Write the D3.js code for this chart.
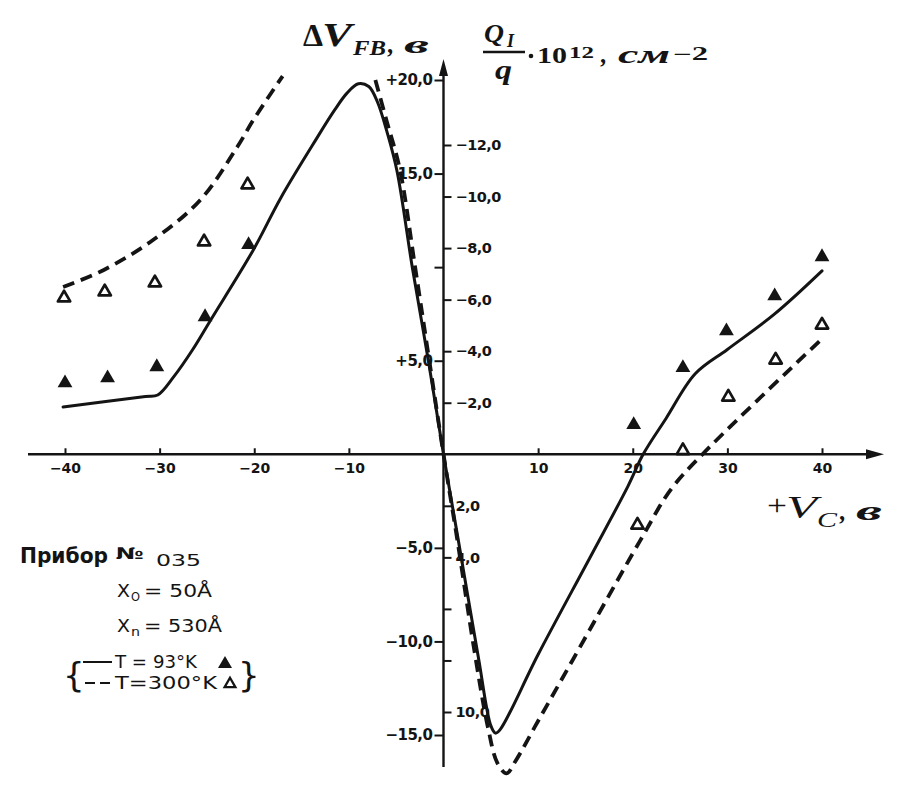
<!DOCTYPE html>
<html>
<head>
<meta charset="utf-8">
<script src="https://cdn.jsdelivr.net/npm/d3@7"></script>
<style>
  html, body { margin: 0; padding: 0; background: #fff; }
  svg { display: block; }
</style>
</head>
<body>
<svg id="chart" width="910" height="792"></svg>
<script>
// ---------- DATA ----------
// x: gate voltage V_C, V ; y: flat-band shift ΔV_FB, V
const xTicks = [-40, -30, -20, -10, 10, 20, 30, 40];
const xTickLabels = ["−40", "−30", "−20", "−10", "10", "20", "30", "40"];

const dvTicks = [20, 15, 10, 5, -5, -10, -15];
const dvTickLabels = ["+20,0", "15,0", "", "+5,0", "−5,0", "−10,0", "−15,0"];

const qTicks = [-12, -10, -8, -6, -4, -2, 2, 4, 6, 8, 10];
const qTickLabels = ["−12,0", "−10,0", "−8,0", "−6,0", "−4,0", "−2,0", "2,0", "4,0", "", "", "10,0"];

// T = 93 K, solid curve
const solidV  = [-40.2, -31.5, -30.2, -28.5, -26.5, -24.6, -20.1, -17.2, -13.5, -11.5, -10.2, -9.0, -7.9, -7.0, -5.9, -4.9, -3.3, -1.6, 0, 1.5, 3.7, 5.0, 5.5, 6.0, 10.0, 15.5, 19.5, 21.1, 23.5, 26.6, 30.0, 35.0, 40.0];
const solidDV = [2.53, 3.09, 3.17, 4.15, 5.6, 7.18, 10.92, 13.7, 16.8, 18.4, 19.3, 19.8, 19.65, 18.85, 17.1, 15.1, 10.0, 5.0, 0, -4.4, -10.9, -14.5, -14.9, -14.7, -10.7, -5.5, -1.7, 0, 1.9, 4.3, 5.6, 7.5, 9.8];

// T = 300 K, dashed curve (null = break where the curve leaves the frame)
const dashedV  = [-40.2, -35.9, -30.7, -25.7, -21.8, -20.1, -17.0, null, -7.2, -6.0, -4.6, -3.0, -1.5, 0, 1.5, 3.2, 4.7, 5.7, 6.66, 7.6, 10.0, 13.7, 20.8, 24.0, 27.5, 39.85];
const dashedDV = [8.94, 9.85, 11.45, 13.59, 16.42, 17.86, 20.21, null, 20.0, 17.8, 15.2, 10.0, 5.0, 0, -4.7, -10.3, -14.6, -16.5, -17.05, -16.4, -14.25, -10.95, -4.6, -1.9, 0.07, 6.1];

// measured points, T = 93 K (filled triangles)
const filledV  = [-40, -35.5, -30.3, -25.2, -20.6, 20.1, 25.3, 29.9, 35.0, 40.0];
const filledDV = [3.81, 4.08, 4.67, 7.34, 11.2, 1.58, 4.62, 6.59, 8.46, 10.55];

// measured points, T = 300 K (open triangles)
const openV  = [-40.1, -35.8, -30.5, -25.3, -20.7, 20.5, 25.3, 30.1, 35.1, 40.0];
const openDV = [8.36, 8.68, 9.16, 11.35, 14.4, -3.78, 0.2, 3.06, 5.04, 6.91];

// ---------- DRAWING ----------
const svg = d3.select("#chart");
const INK = "#141414";
svg.append("rect").attr("width", 910).attr("height", 792).attr("fill", "#fff");

const x  = d3.scaleLinear().domain([-40, 40]).range([65, 822]);
const y  = d3.scaleLinear().domain([-15, 20]).range([735, 80]);
const yQ = d3.scaleLinear().domain([-12, 10]).range([145, 712]);

const x0 = x(0), y0 = y(0);
const tickFont = "DejaVu Sans, sans-serif";
const serif = "Liberation Serif, DejaVu Serif, serif";
const sans = "DejaVu Sans, sans-serif";

// helper for text pieces with a fixed width
function txt(px, py, s, o) {
  const t = svg.append("text").attr("x", px).attr("y", py).text(s)
    .attr("fill", INK)
    .attr("font-family", o.family || serif)
    .attr("font-size", o.size || 20)
    .attr("font-weight", o.weight || "normal")
    .attr("font-style", o.style || "normal");
  if (o.len) t.attr("textLength", o.len).attr("lengthAdjust", "spacingAndGlyphs");
  return t;
}

// axis lines with arrows
svg.append("line").attr("x1", 28).attr("x2", 872).attr("y1", y0).attr("y2", y0)
  .attr("stroke", INK).attr("stroke-width", 2.4);
svg.append("path").attr("d", `M884,${y0} L866,${y0-5} L866,${y0+5} Z`).attr("fill", INK);
svg.append("line").attr("x1", x0).attr("x2", x0).attr("y1", 72).attr("y2", 767)
  .attr("stroke", INK).attr("stroke-width", 2.4);
svg.append("path").attr("d", `M${x0},59 L${x0-4.5},76 L${x0+4.5},76 Z`).attr("fill", INK);

// x axis ticks (up) + labels (below)
const gx = svg.append("g").attr("transform", `translate(0,${y0})`)
  .call(d3.axisBottom(x).tickValues(xTicks).tickSize(-6).tickPadding(9)
    .tickFormat((d, i) => xTickLabels[i]));
gx.select(".domain").remove();
gx.selectAll(".tick line").attr("stroke", INK).attr("stroke-width", 2);
gx.selectAll(".tick text").attr("font-family", tickFont).attr("font-weight", "bold")
  .attr("font-size", 14).attr("fill", INK);

// left axis: ΔV_FB
const gl = svg.append("g").attr("transform", `translate(${x0},0)`)
  .call(d3.axisLeft(y).tickValues(dvTicks).tickSize(9).tickPadding(2)
    .tickFormat((d, i) => dvTickLabels[i]));
gl.select(".domain").remove();
gl.selectAll(".tick line").attr("stroke", INK).attr("stroke-width", 2);
gl.selectAll(".tick text").attr("font-family", tickFont).attr("font-weight", "bold")
  .attr("font-size", 15).attr("fill", INK).attr("letter-spacing", -0.5);

// right axis: Q_I/q
const gr = svg.append("g").attr("transform", `translate(${x0},0)`)
  .call(d3.axisRight(yQ).tickValues(qTicks).tickSize(8).tickPadding(4)
    .tickFormat((d, i) => qTickLabels[i]));
gr.select(".domain").remove();
gr.selectAll(".tick line").attr("stroke", INK).attr("stroke-width", 2);
gr.selectAll(".tick text").attr("font-family", tickFont).attr("font-weight", "bold")
  .attr("font-size", 14.5).attr("fill", INK).attr("letter-spacing", -0.5);

// curves
const solidData = solidV.map((v, i) => [v, solidDV[i]]);
const dashedData = dashedV.map((v, i) => [v, dashedDV[i]]);

const line = d3.line()
  .defined(d => d[0] !== null && d[1] !== null)
  .x(d => x(d[0])).y(d => y(d[1]))
  .curve(d3.curveCatmullRom.alpha(0.5));

svg.append("path").datum(solidData).attr("d", line)
  .attr("fill", "none").attr("stroke", INK).attr("stroke-width", 3)
  .attr("stroke-linejoin", "round").attr("stroke-linecap", "round");
svg.append("path").datum(dashedData).attr("d", line)
  .attr("fill", "none").attr("stroke", INK).attr("stroke-width", 3.8)
  .attr("stroke-dasharray", "12,7").attr("stroke-linecap", "butt");

// markers
const triFilled = d3.symbol().type(d3.symbolTriangle).size(95);
const triOpen = d3.symbol().type(d3.symbolTriangle).size(66);

svg.append("g").selectAll("path").data(filledV.map((v, i) => [v, filledDV[i]]))
  .join("path").attr("d", triFilled)
  .attr("transform", d => `translate(${x(d[0])},${y(d[1])})`)
  .attr("fill", INK);
svg.append("g").selectAll("path").data(openV.map((v, i) => [v, openDV[i]]))
  .join("path").attr("d", triOpen)
  .attr("transform", d => `translate(${x(d[0])},${y(d[1])})`)
  .attr("fill", "#fff").attr("stroke", INK).attr("stroke-width", 2.7)
  .attr("stroke-linejoin", "round");

// ---------- AXIS TITLES ----------
// ΔV_FB, в
txt(303, 46, "Δ", { size: 32, weight: "bold", len: 20 });
txt(322, 46, "V", { size: 34, weight: "bold", style: "italic", len: 30 });
txt(353, 55, "FB", { size: 21, weight: "bold", style: "italic", len: 33 });
txt(388, 53, ",", { size: 25, weight: "bold", style: "italic" });
txt(404, 53, "в", { size: 26, weight: "bold", style: "italic", len: 25 });

// Q_I / q · 10^12, см^-2
txt(484, 42, "Q", { size: 25, weight: "bold", style: "italic", len: 20 });
txt(507, 47, "I", { size: 18, weight: "bold", style: "italic" });
svg.append("line").attr("x1", 483).attr("x2", 525).attr("y1", 52).attr("y2", 52)
  .attr("stroke", INK).attr("stroke-width", 2.4);
txt(495, 79, "q", { size: 27, weight: "bold", style: "italic", len: 17 });
svg.append("circle").attr("cx", 531).attr("cy", 56).attr("r", 2.3).attr("fill", INK);
txt(537, 63, "10", { size: 24, weight: "bold", len: 30 });
txt(569, 58, "12", { size: 17, weight: "bold", len: 25 });
txt(601, 63, ",", { size: 25, weight: "bold", style: "italic" });
txt(618, 63, "см", { size: 26, weight: "bold", style: "italic", len: 52 });
txt(673, 60, "−2", { size: 18, weight: "bold", len: 35 });

// +V_C, в
txt(767, 515, "+", { size: 30, len: 20 });
txt(786, 518, "V", { size: 31, style: "italic", len: 31 });
txt(817, 527, "C", { size: 21, style: "italic", len: 20 });
txt(840, 520, ",", { size: 25, weight: "bold", style: "italic" });
txt(856, 520, "в", { size: 27, weight: "bold", style: "italic", len: 26 });

// ---------- LEGEND ----------
txt(20, 563, "Прибор", { family: sans, size: 22, weight: "bold", len: 88 });
txt(116, 559, "№", { family: sans, size: 16, weight: "bold", len: 28 });
txt(156, 566, "035", { family: sans, size: 16, len: 45 });

txt(117, 597, "X", { family: sans, size: 17, len: 13 });
txt(131, 601, "O", { family: sans, size: 12, len: 9 });
txt(144, 597, "= 50Å", { family: sans, size: 17, len: 68 });

txt(117, 632, "X", { family: sans, size: 17, len: 13 });
txt(131, 636, "n", { family: sans, size: 13, len: 9 });
txt(144, 632, "= 530Å", { family: sans, size: 17, len: 78 });

txt(63, 687, "{", { family: sans, size: 34 });
txt(238, 687, "}", { family: sans, size: 34 });

svg.append("line").attr("x1", 83).attr("x2", 112).attr("y1", 662).attr("y2", 662)
  .attr("stroke", INK).attr("stroke-width", 2);
svg.append("line").attr("x1", 85).attr("x2", 111).attr("y1", 683).attr("y2", 683)
  .attr("stroke", INK).attr("stroke-width", 2).attr("stroke-dasharray", "10,5");

txt(115, 668, "T = 93°K", { family: sans, size: 17, len: 82 });
txt(115, 689, "T=300°K", { family: sans, size: 17, len: 102 });

svg.append("path").attr("d", d3.symbol().type(d3.symbolTriangle).size(85))
  .attr("transform", "translate(225,664)").attr("fill", INK);
svg.append("path").attr("d", d3.symbol().type(d3.symbolTriangle).size(50))
  .attr("transform", "translate(230,684)").attr("fill", "#fff")
  .attr("stroke", INK).attr("stroke-width", 2.3);
</script>
</body>
</html>
